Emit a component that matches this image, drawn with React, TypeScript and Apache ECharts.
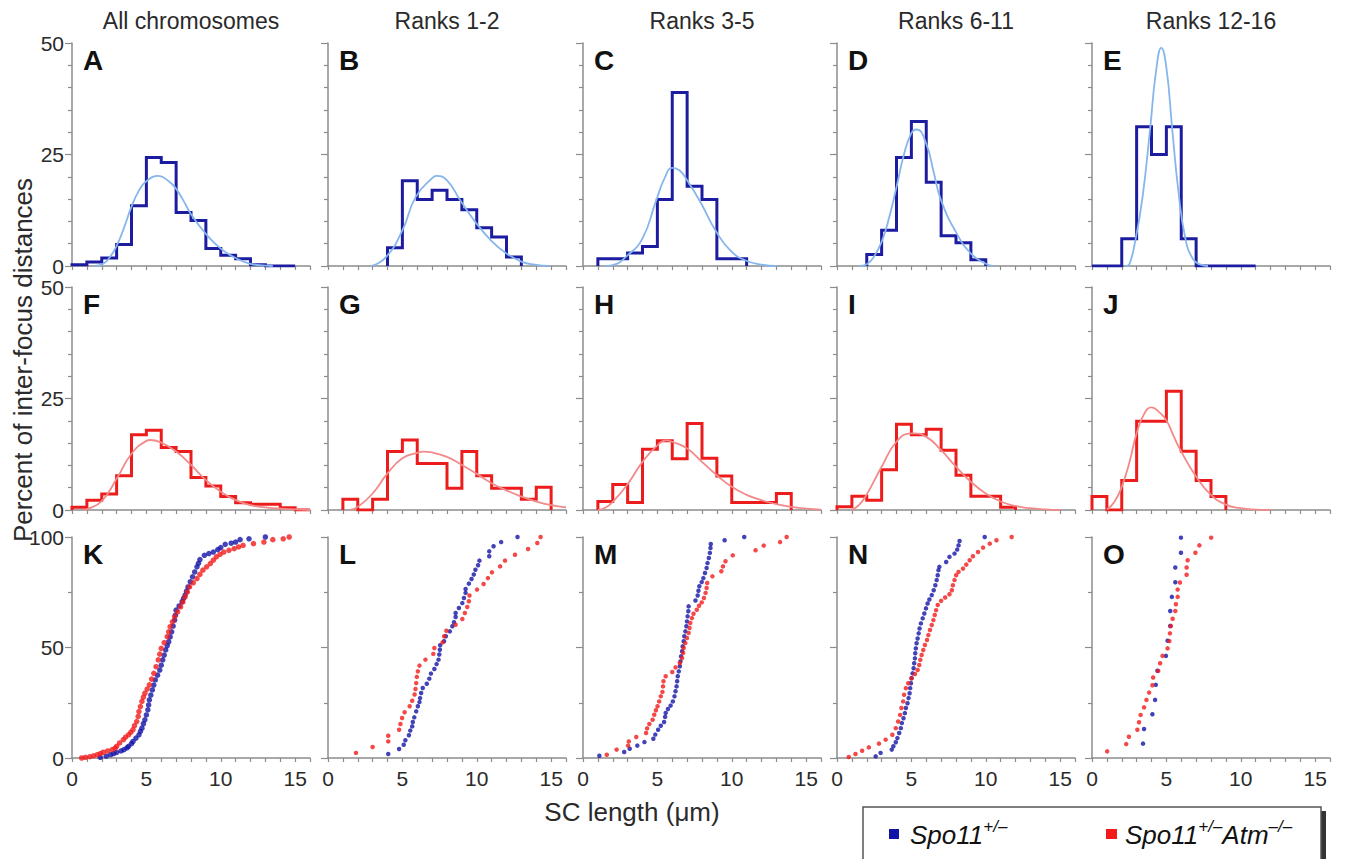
import React, { useEffect, useRef } from 'react';
import * as echarts from 'echarts';

const FONT = '"Liberation Sans", Arial, Helvetica, sans-serif';

// ---------- text ----------
const columnTitles = ['All chromosomes', 'Ranks 1-2', 'Ranks 3-5', 'Ranks 6-11', 'Ranks 12-16'];
const panelLetters = [
  ['A', 'B', 'C', 'D', 'E'],
  ['F', 'G', 'H', 'I', 'J'],
  ['K', 'L', 'M', 'N', 'O'],
];
const yTitle = 'Percent of inter-focus distances';
const xTitle = 'SC length (\u03bcm)';

// ---------- tick labels ----------
const xTickLabels = [0, 5, 10, 15];
const histYTicks = [0, 25, 50];
const cumYTicks = [0, 50, 100];

// ---------- histograms (percent per 1-um bin, bins 0..15; null = not drawn) ----------
const histA = [0.3, 0.9, 1.8, 4.8, 13.5, 24.3, 23.2, 12.0, 10.2, 3.9, 2.4, 1.6, 0.3, 0, 0, null];
const histB = [null, null, null, null, 4.1, 19.1, 14.9, 17.0, 14.9, 12.6, 8.6, 6.5, 2.0, null, null, null];
const histC = [null, 1.6, 1.6, 2.9, 4.4, 14.9, 38.9, 17.9, 14.9, 1.6, 1.6, null, null, null, null, null];
const histD = [null, null, 2.6, 8.0, 24.3, 32.4, 18.8, 6.8, 5.2, 1.4, null, null, null, null, null, null];
const histE = [0, 0, 6.1, 31.2, 25.0, 31.2, 6.1, 0, 0, 0, 0, null, null, null, null, null];

const histF = [0.6, 2.2, 3.6, 7.7, 16.9, 17.9, 14.0, 13.1, 7.3, 5.4, 3.0, 1.6, 1.3, 1.3, 0.5, 0];
const histG = [null, 2.4, 0, 2.4, 13.1, 15.7, 10.4, 10.4, 4.9, 13.1, 7.7, 4.9, 4.9, 2.4, 5.1, null];
const histH = [null, 1.9, 5.7, 1.7, 13.6, 15.5, 11.5, 19.4, 11.6, 7.6, 1.7, 1.7, 1.7, 3.7, null, null];
const histI = [0.75, 3.1, 2.2, 9.0, 19.2, 16.9, 18.1, 13.4, 7.8, 3.1, 3.1, 0.6, null, null, null, null];
const histJ = [3.0, 0, 6.6, 19.9, 19.9, 26.6, 13.2, 6.6, 3.0, null, null, null, null, null, null, null];

// ---------- fitted curves ([SC length, percent]) ----------
const fitA = [[1.5, 0], [2.1, 0.5], [2.55, 2.0], [3, 4.5], [3.5, 8.6], [4, 13.3], [4.5, 16.9], [5, 19.0], [5.8, 20.2], [6.5, 19.0], [7, 17.3], [7.5, 14.6], [8, 11.6], [9, 7.2], [10, 3.9], [11, 1.8], [12, 0.5], [13, 0.1], [13.5, 0]];
const fitB = [[2.9, 0], [3.9, 2.0], [5, 8.0], [5.9, 15.5], [7, 19.7], [7.3, 20.2], [8, 19.2], [8.9, 14.7], [9.9, 9.9], [11, 5.6], [12, 2.8], [13, 1.0], [13.9, 0.3], [14.9, 0]];
const fitC = [[1.5, 0], [2, 0.2], [3, 2.4], [4, 6.2], [4.9, 14.5], [5.5, 19.8], [6, 22], [6.5, 21.4], [7, 19.2], [7.9, 14.3], [8.9, 8.0], [9.9, 3.5], [10.9, 1.3], [12, 0.3], [13, 0]];
const fitD = [[1.5, 0], [2, 0.4], [2.5, 2.2], [3, 5.4], [3.5, 10.8], [4, 17.7], [4.5, 25], [5, 29.8], [5.35, 30.6], [6, 27.4], [6.5, 21.0], [7, 14.7], [8, 7.6], [9, 2.8], [10, 0.5], [10.5, 0]];
const fitE = [[2.3, 0], [2.5, 0.3], [2.9, 5.5], [3.4, 15.5], [3.92, 31.2], [4.3, 43.5], [4.66, 48.9], [5.0, 44.5], [5.38, 31.2], [5.8, 17], [6.28, 6.1], [6.8, 1.5], [7.3, 0.3], [7.8, 0]];

const fitF = [[0.8, 0], [1, 0.15], [2, 2.0], [3, 7.0], [4, 12.6], [5, 15.5], [5.25, 15.7], [6, 15.1], [7, 13.1], [8, 10.1], [9, 6.7], [10, 4.1], [11, 2.2], [12, 1.1], [13, 0.6], [14, 0.3], [15, 0.15], [16, 0]];
const fitG = [[1.5, 0], [2, 0.7], [3, 3.7], [4, 8.2], [5, 11.6], [6, 12.8], [6.4, 13.1], [7, 12.9], [8, 11.9], [9, 10.1], [10, 8.1], [11, 6.0], [12, 4.4], [13, 3.0], [14, 1.9], [15, 1.1], [16, 0.6]];
const fitH = [[1, 0], [1.5, 0.5], [2, 1.8], [3, 5.8], [4, 10.8], [5, 14.5], [5.6, 15.6], [6, 15.3], [7, 13.8], [8, 10.8], [9, 7.8], [10, 5.2], [11, 3.4], [12, 2.2], [13, 1.3], [14, 0.7], [15, 0.3], [16, 0.1]];
const fitI = [[1, 0], [1.5, 1.2], [2, 3.5], [3, 9.7], [4, 15.3], [5, 17.2], [6, 16.4], [7, 13.4], [8, 9.7], [9, 6.3], [10, 3.7], [11, 1.9], [12, 0.9], [13, 0.4], [14, 0.15], [15, 0]];
const fitJ = [[1, 0.1], [1.5, 1.8], [2, 5.2], [2.5, 10.5], [3, 17.2], [3.5, 21.5], [4, 23], [4.5, 22], [5, 20.1], [5.5, 16.5], [6, 13.1], [7, 7.5], [8, 3.4], [9, 1.2], [10, 0.4], [11, 0.1], [12, 0]];

// ---------- cumulative distributions ([SC length, cumulative percent]) ----------
const cumKBlue = [[1.9, 0.3], [2.3, 0.8], [2.6, 1.5], [2.8, 2.0], [3.0, 2.5], [3.3, 3.2], [3.5, 3.8], [3.7, 4.6], [3.8, 5.3], [4.0, 6.5], [4.1, 7.5], [4.3, 9.0], [4.5, 10.5], [4.6, 12.0], [4.7, 13.5], [4.8, 15.5], [4.9, 17.3], [5.0, 19.5], [5.1, 21.8], [5.15, 24.0], [5.2, 26.3], [5.3, 28.5], [5.4, 30.8], [5.5, 33.0], [5.6, 35.3], [5.75, 37.5], [5.9, 39.8], [6.0, 42.0], [6.1, 44.4], [6.2, 46.6], [6.3, 48.9], [6.4, 50.8], [6.5, 52.6], [6.6, 54.8], [6.7, 57.1], [6.8, 59.7], [6.9, 62.4], [6.95, 64.6], [7.0, 66.9], [7.2, 68.8], [7.4, 70.7], [7.5, 72.2], [7.6, 73.7], [7.7, 75.5], [7.8, 77.4], [7.95, 79.7], [8.1, 82.0], [8.25, 84.2], [8.4, 86.5], [8.5, 88.1], [8.6, 89.8], [8.9, 91.7], [9.2, 92.5], [9.5, 93.2], [9.8, 94.3], [10.0, 95.2], [10.3, 96.7], [10.7, 97.2], [11.0, 97.7], [11.3, 98.8], [11.9, 99.2], [13.0, 100]];
const cumKRed = [[0.65, 0], [0.9, 0.3], [1.2, 0.6], [1.45, 1.0], [1.7, 1.5], [1.9, 2.0], [2.1, 2.6], [2.4, 3.2], [2.7, 3.8], [2.9, 4.5], [3.0, 5.3], [3.2, 6.8], [3.45, 8.3], [3.6, 9.4], [3.8, 10.5], [3.95, 11.6], [4.1, 12.8], [4.2, 14.6], [4.35, 16.5], [4.45, 18.8], [4.5, 21.0], [4.6, 23.3], [4.7, 25.6], [4.8, 27.5], [4.9, 29.3], [5.05, 31.2], [5.2, 33.1], [5.35, 35.7], [5.5, 38.3], [5.65, 41.3], [5.8, 44.4], [5.9, 47.0], [6.0, 49.6], [6.2, 52.2], [6.4, 54.9], [6.5, 57.1], [6.6, 59.4], [6.75, 61.6], [6.9, 63.9], [7.1, 66.1], [7.3, 68.4], [7.45, 70.6], [7.6, 72.9], [7.75, 75.1], [7.9, 77.4], [8.15, 79.3], [8.4, 81.2], [8.6, 83.1], [8.8, 85.0], [9.05, 86.5], [9.3, 88.0], [9.5, 89.5], [9.7, 91.0], [9.95, 92.1], [10.2, 93.2], [10.55, 94.0], [10.9, 94.7], [11.2, 95.5], [11.5, 96.2], [12.2, 97.0], [12.9, 97.7], [13.5, 98.8], [14.2, 99.2], [14.6, 100]];

const cumLBlue = [[4.05, 1.8], [4.78, 4.1], [5.09, 6.0], [5.2, 8.0], [5.44, 10.3], [5.53, 12.4], [5.66, 14.3], [5.7, 16.3], [5.8, 18.4], [5.93, 21.1], [6.04, 23.4], [6.15, 25.3], [6.19, 27.1], [6.26, 29.4], [6.37, 31.7], [6.64, 33.6], [6.81, 35.9], [6.92, 38.2], [7.15, 40.3], [7.3, 42.5], [7.43, 44.5], [7.48, 46.8], [7.52, 49.0], [7.54, 51.0], [7.8, 52.8], [7.92, 55.1], [8.19, 57.3], [8.36, 59.6], [8.47, 61.4], [8.58, 63.8], [8.58, 65.6], [8.8, 67.9], [9.03, 70.1], [9.14, 72.4], [9.25, 74.7], [9.25, 76.5], [9.47, 78.9], [9.65, 81.0], [9.8, 83.0], [9.91, 85.2], [10.09, 87.2], [10.18, 89.3], [10.84, 91.3], [10.84, 93.5], [11.13, 95.8], [11.64, 97.7], [12.74, 100]];
const cumLRed = [[1.88, 2.3], [3.0, 5.0], [4.05, 7.5], [4.05, 10.1], [4.78, 12.8], [4.87, 15.4], [4.98, 18.1], [5.15, 20.7], [5.49, 23.4], [5.66, 25.9], [5.82, 28.7], [5.88, 31.2], [5.93, 33.9], [5.97, 36.7], [6.04, 39.2], [6.15, 41.8], [6.55, 44.5], [7.08, 47.1], [7.15, 49.8], [7.7, 52.3], [7.81, 55.1], [7.96, 57.6], [8.58, 60.3], [9.03, 62.9], [9.2, 65.6], [9.36, 68.3], [9.47, 70.9], [9.51, 73.5], [10.02, 76.2], [10.46, 78.7], [10.75, 81.4], [11.02, 84.0], [11.57, 86.7], [11.9, 89.3], [12.57, 92.0], [13.45, 94.6], [14.07, 97.3], [14.29, 100]];

const cumMBlue = [[1.1, 1.0], [2.77, 2.7], [3.14, 4.2], [3.65, 5.6], [4.13, 7.2], [4.73, 8.7], [4.86, 10.6], [5.05, 12.8], [5.23, 14.6], [5.45, 16.3], [5.52, 18.6], [5.56, 20.4], [5.71, 22.2], [5.89, 23.7], [6.04, 25.6], [6.15, 27.9], [6.22, 30.2], [6.29, 32.4], [6.33, 34.7], [6.37, 37.0], [6.44, 39.2], [6.51, 41.5], [6.55, 43.7], [6.59, 46.0], [6.66, 48.3], [6.7, 50.5], [6.77, 52.8], [6.81, 55.1], [6.88, 57.3], [6.95, 59.6], [6.99, 61.8], [7.03, 64.1], [7.08, 66.4], [7.1, 68.6], [7.56, 71.3], [7.71, 73.5], [7.76, 75.7], [7.82, 77.7], [7.98, 79.6], [8.09, 81.4], [8.2, 83.7], [8.31, 86.0], [8.37, 88.2], [8.46, 90.5], [8.53, 92.8], [8.57, 95.0], [8.59, 96.8], [9.52, 98.5], [10.84, 100]];
const cumMRed = [[1.6, 1.5], [2.26, 3.8], [3.03, 5.6], [3.08, 7.5], [3.58, 9.5], [4.24, 11.3], [4.31, 13.4], [4.46, 15.4], [4.68, 17.3], [4.79, 19.6], [4.9, 21.6], [5.01, 23.4], [5.12, 25.6], [5.23, 27.9], [5.34, 29.9], [5.38, 32.4], [5.41, 34.7], [5.56, 37.0], [6.0, 38.9], [6.22, 41.0], [6.51, 43.0], [6.66, 45.2], [6.73, 47.5], [6.77, 49.8], [6.88, 52.0], [6.99, 54.3], [7.1, 56.6], [7.16, 58.8], [7.21, 61.1], [7.32, 63.3], [7.43, 65.3], [7.65, 67.1], [7.8, 68.9], [7.98, 70.4], [8.13, 72.4], [8.24, 74.7], [8.31, 76.9], [8.35, 79.2], [8.7, 82.2], [9.3, 84.5], [9.41, 86.7], [9.58, 89.0], [10.07, 91.7], [11.6, 94.0], [12.15, 96.1], [13.25, 97.7], [13.69, 100]];

const cumNBlue = [[2.6, 0.75], [2.93, 2.3], [3.68, 3.8], [3.79, 5.3], [3.95, 7.1], [4.06, 9.0], [4.18, 11.3], [4.29, 13.5], [4.36, 15.8], [4.47, 18.0], [4.56, 20.3], [4.63, 22.6], [4.74, 24.8], [4.81, 27.1], [4.88, 29.3], [4.92, 31.6], [4.97, 33.8], [5.01, 36.1], [5.08, 38.3], [5.15, 40.6], [5.19, 42.9], [5.24, 45.1], [5.26, 47.4], [5.3, 49.6], [5.35, 51.9], [5.42, 54.1], [5.49, 56.4], [5.55, 58.6], [5.64, 60.9], [5.76, 63.2], [5.87, 65.4], [5.98, 67.7], [6.09, 69.9], [6.21, 71.7], [6.37, 73.7], [6.5, 75.9], [6.61, 78.2], [6.7, 80.5], [6.77, 82.7], [6.82, 85.0], [6.88, 86.5], [7.34, 88.7], [7.56, 91.0], [7.9, 92.5], [8.08, 94.3], [8.17, 96.2], [8.24, 98.2], [9.93, 100]];
const cumNRed = [[0.79, 0.45], [1.24, 1.8], [1.69, 3.3], [2.14, 4.8], [2.82, 6.5], [3.27, 8.3], [3.72, 10.5], [3.95, 13.5], [4.11, 16.5], [4.24, 19.5], [4.33, 22.6], [4.45, 25.6], [4.51, 28.6], [4.63, 31.6], [4.79, 33.8], [5.01, 36.1], [5.24, 38.0], [5.42, 39.8], [5.53, 42.1], [5.6, 44.4], [5.69, 46.6], [5.8, 48.9], [5.91, 51.1], [6.05, 53.4], [6.14, 55.6], [6.25, 57.9], [6.37, 60.2], [6.48, 62.4], [6.57, 64.7], [6.66, 66.9], [6.77, 69.2], [7.0, 71.1], [7.27, 72.6], [7.56, 74.1], [7.72, 75.9], [7.79, 78.2], [7.9, 80.5], [8.01, 82.7], [8.17, 84.2], [8.47, 85.7], [8.69, 87.5], [8.92, 89.5], [9.14, 91.3], [9.48, 93.2], [9.82, 95.2], [10.27, 97.0], [10.72, 98.5], [11.74, 100]];

const cumOBlue = [[3.43, 6.5], [3.5, 13.1], [4.06, 19.8], [4.24, 26.3], [4.29, 33.1], [4.4, 39.5], [4.97, 46.2], [5.08, 53.1], [5.26, 59.7], [5.26, 66.5], [5.37, 72.9], [5.6, 79.5], [5.6, 86.2], [5.98, 92.9], [5.98, 99.7]];
const cumORed = [[1.02, 3.0], [2.3, 6.3], [2.48, 9.6], [3.05, 12.8], [3.16, 16.2], [3.27, 19.5], [3.5, 22.9], [3.66, 26.3], [3.84, 29.6], [4.06, 32.9], [4.11, 36.4], [4.45, 39.4], [4.58, 42.9], [4.74, 46.2], [5.08, 49.6], [5.2, 52.9], [5.24, 56.4], [5.3, 59.7], [5.42, 63.0], [5.6, 66.5], [5.64, 69.6], [5.76, 72.9], [5.76, 76.2], [5.91, 79.4], [6.36, 82.9], [6.36, 86.2], [6.43, 89.5], [6.95, 92.9], [7.22, 96.2], [8.01, 99.7]];

const histRows = [
  [histA, histB, histC, histD, histE],
  [histF, histG, histH, histI, histJ],
];
const fitRows = [
  [fitA, fitB, fitC, fitD, fitE],
  [fitF, fitG, fitH, fitI, fitJ],
];
const cumBlue = [cumKBlue, cumLBlue, cumMBlue, cumNBlue, cumOBlue];
const cumRed = [cumKRed, cumLRed, cumMRed, cumNRed, cumORed];

// ---------- styling / layout ----------
const BLUE_DARK = '#1c1ca0';
const BLUE_LIGHT = '#86b6ec';
const RED_DARK = '#ec1c1c';
const RED_LIGHT = '#f28a8a';
const DOT_BLUE = '#1313a8';
const DOT_RED = '#f21a1a';
const AXIS = '#8c8c8c';
const TEXT = '#2a2a2a';

const panelLeft = [72, 328, 583, 837, 1092];
const panelWidth = 238;
const rowTop = [43, 287, 537];
const rowHeight = [223, 223, 221];

function histPoints(v: (number | null)[]) {
  const pts: number[][] = [];
  for (let i = 0; i < v.length; i++) {
    const y = v[i];
    if (y == null) continue;
    if (i === 0 || v[i - 1] == null) pts.push([i, 0]);
    pts.push([i, y], [i + 1, y]);
    if (i === v.length - 1 || v[i + 1] == null) pts.push([i + 1, 0]);
  }
  return pts;
}

function buildOption() {
  const grid: any[] = [];
  const xAxis: any[] = [];
  const yAxis: any[] = [];
  const series: any[] = [];
  const graphic: any[] = [];

  for (let r = 0; r < 3; r++) {
    for (let c = 0; c < 5; c++) {
      const idx = r * 5 + c;
      grid.push({
        left: panelLeft[c], top: rowTop[r], width: panelWidth, height: rowHeight[r],
        outerBoundsMode: 'none',
      });
      xAxis.push({
        type: 'value', gridIndex: idx, min: 0, max: 16, interval: 1,
        axisLine: { show: true, onZero: false, lineStyle: { color: AXIS, width: 1.5 } },
        axisTick: { show: true, length: 4, lineStyle: { color: AXIS, width: 1.2 } },
        splitLine: { show: false },
        axisLabel: {
          show: r === 2,
          formatter: (v: number) => (xTickLabels.indexOf(v) >= 0 ? String(v) : ''),
          fontSize: 21, color: TEXT, fontFamily: FONT, margin: 10,
        },
      });
      const ticks = r < 2 ? histYTicks : cumYTicks;
      yAxis.push({
        type: 'value', gridIndex: idx, min: 0, max: ticks[2], interval: ticks[1],
        axisLine: { show: true, onZero: false, lineStyle: { color: AXIS, width: 1.5 } },
        axisTick: { show: true, length: 7, lineStyle: { color: AXIS, width: 1.2 } },
        minorTick: { show: true, splitNumber: r < 2 ? 5 : 2, length: 4, lineStyle: { color: AXIS, width: 1.2 } },
        splitLine: { show: false },
        minorSplitLine: { show: false },
        axisLabel: {
          show: c === 0,
          formatter: (v: number) => (ticks.indexOf(v) >= 0 ? String(v) : ''),
          fontSize: 21, color: TEXT, fontFamily: FONT, margin: 8,
        },
      });

      if (r < 2) {
        const dark = r === 0 ? BLUE_DARK : RED_DARK;
        const light = r === 0 ? BLUE_LIGHT : RED_LIGHT;
        series.push({
          type: 'line', xAxisIndex: idx, yAxisIndex: idx,
          data: histPoints(histRows[r][c]), symbol: 'none', silent: true, z: 3,
          lineStyle: { color: dark, width: 3, join: 'miter' }, itemStyle: { color: dark },
        });
        series.push({
          type: 'line', xAxisIndex: idx, yAxisIndex: idx,
          data: fitRows[r][c], symbol: 'none', smooth: 0.5, silent: true, z: 4,
          lineStyle: { color: light, width: 1.8 }, itemStyle: { color: light },
        });
      } else {
        series.push({
          type: 'scatter', xAxisIndex: idx, yAxisIndex: idx, data: cumBlue[c],
          symbolSize: c === 0 ? 5.5 : 4.5, silent: true, z: 3, itemStyle: { color: DOT_BLUE },
        });
        series.push({
          type: 'scatter', xAxisIndex: idx, yAxisIndex: idx, data: cumRed[c],
          symbolSize: c === 0 ? 5.5 : 4.5, silent: true, z: 4, itemStyle: { color: DOT_RED },
        });
      }

      graphic.push({
        type: 'text', x: panelLeft[c] + 11, y: rowTop[r] + 3,
        style: {
          text: panelLetters[r][c], fill: '#111', fontSize: 28, fontWeight: 'bold', fontFamily: FONT,
          align: 'left', verticalAlign: 'top', textAlign: 'left', textVerticalAlign: 'top',
        },
        silent: true,
      });
    }
  }

  columnTitles.forEach((t, c) => {
    graphic.push({
      type: 'text', x: panelLeft[c] + panelWidth / 2, y: 21,
      style: {
        text: t, fill: TEXT, fontSize: 23, fontFamily: FONT,
        align: 'center', verticalAlign: 'middle', textAlign: 'center', textVerticalAlign: 'middle',
      },
      silent: true,
    });
  });

  graphic.push({
    type: 'text', x: 23, y: 360, rotation: Math.PI / 2,
    style: {
      text: yTitle, fill: TEXT, fontSize: 26, fontFamily: FONT,
      align: 'center', verticalAlign: 'middle', textAlign: 'center', textVerticalAlign: 'middle',
    },
    silent: true,
  });
  graphic.push({
    type: 'text', x: 632, y: 812,
    style: {
      text: xTitle, fill: TEXT, fontSize: 26, fontFamily: FONT,
      align: 'center', verticalAlign: 'middle', textAlign: 'center', textVerticalAlign: 'middle',
    },
    silent: true,
  });

  // legend box
  graphic.push({
    type: 'rect', shape: { x: 1321, y: 811, width: 5, height: 60 },
    style: { fill: '#333' }, silent: true, z: 10,
  });
  graphic.push({
    type: 'rect', shape: { x: 863, y: 807, width: 458, height: 70 },
    style: { fill: '#fff', stroke: '#555', lineWidth: 1.5 }, silent: true, z: 11,
  });
  graphic.push({
    type: 'rect', shape: { x: 889, y: 829, width: 10, height: 10 },
    style: { fill: DOT_BLUE }, silent: true, z: 12,
  });
  graphic.push({
    type: 'rect', shape: { x: 1106, y: 829, width: 11, height: 10 },
    style: { fill: DOT_RED }, silent: true, z: 12,
  });
  const rich = {
    a: { fontSize: 26, fontStyle: 'italic', fontFamily: FONT, fill: '#111', lineHeight: 34 },
    b: { fontSize: 17, fontStyle: 'italic', fontFamily: FONT, fill: '#111', lineHeight: 17, verticalAlign: 'top' },
  };
  graphic.push({
    type: 'text', x: 910, y: 835, z: 12, silent: true,
    style: { text: '{a|Spo11}{b|+/\u2013}', rich, align: 'left', verticalAlign: 'middle', textAlign: 'left', textVerticalAlign: 'middle' },
  });
  graphic.push({
    type: 'text', x: 1125, y: 835, z: 12, silent: true,
    style: { text: '{a|Spo11}{b|+/\u2013}{a|Atm}{b|\u2013/\u2013}', rich, align: 'left', verticalAlign: 'middle', textAlign: 'left', textVerticalAlign: 'middle' },
  });

  return {
    animation: false,
    backgroundColor: '#ffffff',
    textStyle: { fontFamily: FONT },
    grid, xAxis, yAxis, series, graphic,
  };
}

export default function App() {
  const ref = useRef<HTMLDivElement>(null);
  useEffect(() => {
    document.body.style.margin = '0';
    if (!ref.current) return;
    const chart = echarts.init(ref.current, undefined, { renderer: 'svg' });
    chart.setOption(buildOption() as any);
    return () => chart.dispose();
  }, []);
  return <div ref={ref} style={{ width: 1348, height: 859 }} />;
}
